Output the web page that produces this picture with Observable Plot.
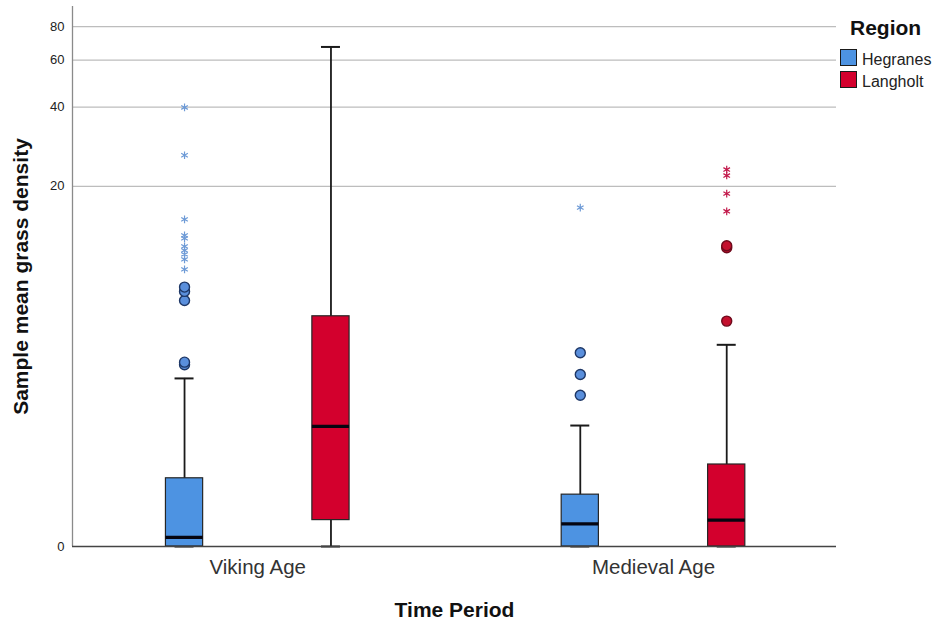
<!DOCTYPE html>
<html>
<head>
<meta charset="utf-8">
<script src="https://cdn.jsdelivr.net/npm/d3@7"></script>
<script src="https://cdn.jsdelivr.net/npm/@observablehq/plot@0.6"></script>
<style>
  html, body { margin: 0; padding: 0; background: #fff; overflow: hidden; }
  #wrap { position: relative; width: 938px; height: 624px; font-family: "Liberation Sans", Arial, sans-serif; }
  #legend { position: absolute; left: 0; top: 0; }
  .lg { position: absolute; white-space: nowrap; color: #111; }
  .sw { position: absolute; width: 15px; height: 15px; border: 1px solid #1a1a1a; }
</style>
</head>
<body>
<div id="wrap"><div id="legend"></div></div>
<script>
// ---- data ----
const periods = ["Viking Age", "Medieval Age"];
const regions = ["Hegranes", "Langholt"];
const regionColors = ["#4d93e2", "#d3002d"];

// one entry per box
const boxPeriod   = ["Viking Age", "Viking Age", "Medieval Age", "Medieval Age"];
const boxRegion   = ["Hegranes", "Langholt", "Hegranes", "Langholt"];
const q1          = [0, 0.25, 0, 0];
const median      = [0.08, 1.76, 0.21, 0.25];
const q3          = [0.78, 6.0, 0.55, 1.0];
const whiskerLow  = [0, 0, 0, 0];
const whiskerHigh = [3.14, 67.2, 1.78, 4.5];

// outliers (circles)
const outlierPeriod = ["Viking Age","Viking Age","Viking Age","Viking Age","Viking Age",
                       "Medieval Age","Medieval Age","Medieval Age",
                       "Medieval Age","Medieval Age","Medieval Age"];
const outlierRegion = ["Hegranes","Hegranes","Hegranes","Hegranes","Hegranes",
                       "Hegranes","Hegranes","Hegranes",
                       "Langholt","Langholt","Langholt"];
const outlierValue  = [3.65, 3.75, 7.0, 7.64, 7.96,
                       2.59, 3.28, 4.14,
                       5.72, 11.5, 11.7];

// extremes (stars)
const extremePeriod = ["Viking Age","Viking Age","Viking Age","Viking Age","Viking Age",
                       "Viking Age","Viking Age","Viking Age","Viking Age","Viking Age",
                       "Medieval Age",
                       "Medieval Age","Medieval Age","Medieval Age","Medieval Age"];
const extremeRegion = ["Hegranes","Hegranes","Hegranes","Hegranes","Hegranes",
                       "Hegranes","Hegranes","Hegranes","Hegranes","Hegranes",
                       "Hegranes",
                       "Langholt","Langholt","Langholt","Langholt"];
const extremeValue  = [9.41, 10.33, 10.81, 11.22, 11.64, 12.53, 12.87, 14.88, 26.3, 39.9,
                       16.54,
                       16.0, 18.74, 22.0, 23.2];

const yTicks = [0, 20, 40, 60, 80];
const yDomain = [0, 95];

// ---- layout constants ----
const xDomain = [-0.4681, 1.4624];
const regionOffset = 0.185;
const boxHalf = 0.047;
const capHalf = 0.024;

const xPos = (p, r) => periods.indexOf(p) + (r === regions[0] ? -regionOffset : regionOffset);

const boxes = boxPeriod.map((p, i) => ({
  period: p, region: boxRegion[i], x: xPos(p, boxRegion[i]),
  q1: q1[i], median: median[i], q3: q3[i], lo: whiskerLow[i], hi: whiskerHigh[i]
}));
const outliers = outlierValue.map((v, i) => ({region: outlierRegion[i], x: xPos(outlierPeriod[i], outlierRegion[i]), v}));
const extremes = extremeValue.map((v, i) => ({region: extremeRegion[i], x: xPos(extremePeriod[i], extremeRegion[i]), v}));

const dotFill   = {Hegranes: "#5a8fdc", Langholt: "#c4102e"};
const dotStroke = {Hegranes: "#1e3766", Langholt: "#6e0a1c"};
const starColor = {Hegranes: "#6d9ad6", Langholt: "#c2184a"};

const chart = Plot.plot({
  width: 938,
  height: 624,
  marginLeft: 72,
  marginRight: 102,
  marginTop: 6,
  marginBottom: 78,
  style: {fontFamily: "'Liberation Sans', Arial, sans-serif", background: "white", overflow: "visible"},
  x: {domain: xDomain, axis: null},
  y: {type: "symlog", constant: 1, domain: yDomain, axis: null},
  color: {domain: regions, range: regionColors},
  marks: [
    Plot.gridY([20, 40, 60, 80], {stroke: "#bdbdbd", strokeOpacity: 1, strokeWidth: 1.3}),
    Plot.axisY({ticks: yTicks, tickSize: 0, tickPadding: 8, fontSize: 13, fill: "#222", label: null}),
    Plot.axisX({ticks: [0, 1], tickFormat: i => periods[i], tickSize: 0, tickPadding: 13, fontSize: 20.5, fill: "#333", label: null}),
    // whiskers
    Plot.ruleX(boxes, {x: "x", y1: "lo", y2: "hi", stroke: "#1a1a1a", strokeWidth: 1.8}),
    Plot.ruleY(boxes, {y: "hi", x1: d => d.x - capHalf, x2: d => d.x + capHalf, stroke: "#1a1a1a", strokeWidth: 2}),
    Plot.ruleY(boxes, {y: "lo", x1: d => d.x - capHalf, x2: d => d.x + capHalf, stroke: "#1a1a1a", strokeWidth: 2}),
    // boxes
    Plot.rect(boxes, {x1: d => d.x - boxHalf, x2: d => d.x + boxHalf, y1: "q1", y2: "q3", fill: "region", stroke: "#262626", strokeWidth: 1.2}),
    Plot.ruleY(boxes, {y: "median", x1: d => d.x - boxHalf, x2: d => d.x + boxHalf, stroke: "#050510", strokeWidth: 3.2}),
    // outliers and extremes
    Plot.dot(outliers, {x: "x", y: "v", r: 5, fill: d => dotFill[d.region], stroke: d => dotStroke[d.region], strokeWidth: 1.4}),
    Plot.dot(extremes, {x: "x", y: "v", r: 3.6, symbol: "asterisk", stroke: d => starColor[d.region], strokeWidth: 1.2}),
    // axis lines
    Plot.ruleX([xDomain[0]], {stroke: "#8a8a8a", strokeWidth: 1.3}),
    Plot.ruleY([0], {stroke: "#444", strokeWidth: 1.3}),
    // axis titles
    Plot.text(["Sample mean grass density"], {frameAnchor: "left", textAnchor: "middle", lineAnchor: "middle", rotate: -90, dx: -51, fontSize: 21, fontWeight: "bold", fill: "#111"}),
    Plot.text(["Time Period"], {frameAnchor: "bottom", textAnchor: "middle", lineAnchor: "middle", dy: 64, fontSize: 21, fontWeight: "bold", fill: "#111"})
  ]
});

const wrap = document.getElementById("wrap");
wrap.insertBefore(chart, wrap.firstChild);

// legend
const legend = document.getElementById("legend");
const title = document.createElement("div");
title.className = "lg";
title.textContent = "Region";
Object.assign(title.style, {left: "850px", top: "17px", fontSize: "21px", fontWeight: "bold", lineHeight: "21px"});
legend.appendChild(title);
regions.forEach((r, i) => {
  const sw = document.createElement("div");
  sw.className = "sw";
  Object.assign(sw.style, {left: "840px", top: (49 + i * 22) + "px", background: regionColors[i]});
  legend.appendChild(sw);
  const t = document.createElement("div");
  t.className = "lg";
  t.textContent = r;
  Object.assign(t.style, {left: "862px", top: (52 + i * 22) + "px", fontSize: "16px", lineHeight: "16px", color: "#222"});
  legend.appendChild(t);
});
</script>
</body>
</html>
